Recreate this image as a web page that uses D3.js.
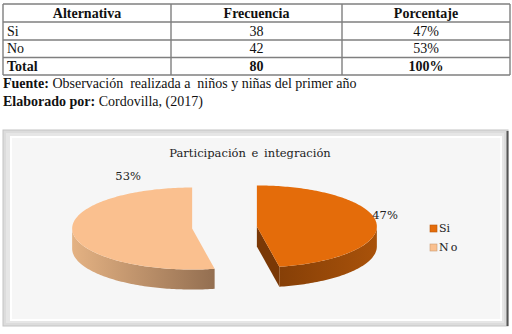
<!DOCTYPE html>
<html><head><meta charset="utf-8">
<script src="https://cdn.jsdelivr.net/npm/d3@7"></script>
<style>
html,body{margin:0;padding:0;background:#fff;}
svg{display:block;}
.tf{font-family:"Liberation Serif","Times New Roman",serif;}
.cf{font-family:"DejaVu Serif",serif;}
</style>
</head><body>
<svg id="c" width="512" height="334"></svg>
<script>
// ---- data ----
const headers = ["Alternativa", "Frecuencia", "Porcentaje"];
const categories = ["Si", "No"];
const frequencies = [38, 42];
const percentages = [47, 53];
const totalLabel = "Total";
const totalFrequency = 80;
const totalPercent = 100;
const chartTitle = "Participación e integración";
const sourceLabel = "Fuente:";
const sourceText = " Observación  realizada a  niños y niñas del primer año";
const authorLabel = "Elaborado por:";
const authorText = " Cordovilla, (2017)";

const svg = d3.select("#c");

// ---- table ----
const colEdges = [3, 171, 342, 510];
const rowEdges = [4, 22, 40, 57.5, 75];
const tg = svg.append("g");
const rows = [headers].concat(categories.map((c, i) => [c, String(frequencies[i]), percentages[i] + "%"]))
  .concat([[totalLabel, String(totalFrequency), totalPercent + "%"]]);
rowEdges.forEach(y => tg.append("line").attr("x1", colEdges[0]).attr("x2", colEdges[3]).attr("y1", y).attr("y2", y)
  .attr("stroke", "#7f7f7f").attr("stroke-width", 1.4));
colEdges.forEach(x => tg.append("line").attr("x1", x).attr("x2", x).attr("y1", rowEdges[0]).attr("y2", rowEdges[4])
  .attr("stroke", "#7f7f7f").attr("stroke-width", 1.4));
rows.forEach((r, ri) => {
  const bold = ri === 0 || ri === rows.length - 1;
  const yb = rowEdges[ri + 1] - 4.5;
  r.forEach((t, ci) => {
    const left = ci === 0 && ri > 0;
    tg.append("text").attr("class", "tf")
      .attr("x", left ? colEdges[0] + 4 : (colEdges[ci] + colEdges[ci + 1]) / 2)
      .attr("y", yb)
      .attr("text-anchor", left ? "start" : "middle")
      .style("font-size", "14px")
      .style("font-weight", bold ? "bold" : "normal")
      .attr("fill", "#111").text(t);
  });
});
const src = svg.append("text").attr("class", "tf").attr("x", 3).attr("y", 88).style("font-size", "14px").attr("fill", "#111");
src.append("tspan").style("font-weight", "bold").text(sourceLabel);
src.append("tspan").style("white-space", "pre").text(sourceText);
const aut = svg.append("text").attr("class", "tf").attr("x", 3).attr("y", 106).style("font-size", "14px").attr("fill", "#111");
aut.append("tspan").style("font-weight", "bold").text(authorLabel);
aut.append("tspan").style("white-space", "pre").text(authorText);

// ---- chart frame ----
const defs = svg.append("defs");
const fr = svg.append("g");
fr.append("rect").attr("x", 3).attr("y", 130).attr("width", 505).attr("height", 196)
  .attr("fill", "#dcdcdc").attr("stroke", "#c4c4c4").attr("stroke-width", 1);
fr.append("rect").attr("x", 6).attr("y", 133).attr("width", 498).attr("height", 190)
  .attr("fill", "#e6e6e6");
fr.append("line").attr("x1", 507.5).attr("x2", 507.5).attr("y1", 131).attr("y2", 326)
  .attr("stroke", "#555").attr("stroke-width", 2);
fr.append("rect").attr("x", 11).attr("y", 137).attr("width", 490).attr("height", 183)
  .attr("fill", "#f6f6f6").attr("stroke", "#ffffff").attr("stroke-width", 2);

svg.append("text").attr("class", "cf").attr("x", 250).attr("y", 157).attr("text-anchor", "middle")
  .style("font-size", "11.5px").attr("fill", "#222")
  .attr("word-spacing", 2).text(chartTitle);

// ---- 3D pie ----
const colors = d3.scaleOrdinal().domain(categories).range(["#e46c0a", "#fac08f"]);
const sideStops = { "Si": ["#7e3b06", "#a9520a"], "No": ["#e4b283", "#8f6b4e"] };
const faceColor = { "Si": "#7a3806", "No": "#9a7352" };
const cx0 = 224.5, cy0 = 227.5, rx = 120, ry = 41, depth = 20, explode = 32.5;

const pie = d3.pie().sort(null).value(d => d.v);
const arcs = pie(categories.map((c, i) => ({ c, v: percentages[i] })));

const pg = svg.append("g");
function pt(cx, cy, a, dz) { return [cx + rx * Math.sin(a), cy - ry * Math.cos(a) + (dz || 0)]; }
function arcPts(cx, cy, a0, a1, dz) {
  const n = Math.max(2, Math.ceil(Math.abs(a1 - a0) / 0.02));
  return d3.range(n + 1).map(i => pt(cx, cy, a0 + (a1 - a0) * i / n, dz));
}
const line = d3.line().curve(d3.curveLinear);

arcs.forEach((d, i) => {
  const c = d.data.c;
  const mid = (d.startAngle + d.endAngle) / 2;
  const cx = cx0 + explode * Math.sin(mid);
  const cy = cy0 - explode * Math.cos(mid) * ry / rx;
  const gid = "side" + i;
  const lg = defs.append("linearGradient").attr("id", gid).attr("gradientUnits", "userSpaceOnUse")
    .attr("y1", 0).attr("y2", 0);
  if (c === "No") {
    lg.attr("x1", cx - rx).attr("x2", cx + 30);
  } else {
    lg.attr("x1", cx).attr("x2", cx + rx);
  }
  lg.append("stop").attr("offset", "0%").attr("stop-color", sideStops[c][0]);
  lg.append("stop").attr("offset", "100%").attr("stop-color", sideStops[c][1]);

  // cut faces
  const faces = [];
  if (Math.sin(d.startAngle) < -1e-6) faces.push(d.startAngle);
  if (Math.sin(d.endAngle) > 1e-6) faces.push(d.endAngle);
  faces.forEach(a => {
    const p = pt(cx, cy, a), pb = pt(cx, cy, a, depth);
    pg.append("path").attr("d", line([[cx, cy], p, pb, [cx, cy + depth]]) + "Z")
      .attr("fill", faceColor[c]);
  });
  // outer wall (front half)
  const a0 = Math.max(d.startAngle, Math.PI / 2), a1 = Math.min(d.endAngle, 3 * Math.PI / 2);
  if (a1 > a0) {
    const top = arcPts(cx, cy, a0, a1, 0);
    const bot = arcPts(cx, cy, a1, a0, depth);
    pg.append("path").attr("d", line(top.concat(bot)) + "Z").attr("fill", "url(#" + gid + ")");
  }
  // top surface
  const tp = [[cx, cy]].concat(arcPts(cx, cy, d.startAngle, d.endAngle, 0));
  pg.append("path").attr("d", line(tp) + "Z").attr("fill", colors(c));
});

// data labels
const labelPos = {
  "Si": { a: 1.33, r: 1.1 },
  "No": { a: 5.88, r: 1.36 }
};
arcs.forEach(d => {
  const c = d.data.c;
  const mid = (d.startAngle + d.endAngle) / 2;
  const cx = cx0 + explode * Math.sin(mid);
  const cy = cy0 - explode * Math.cos(mid) * ry / rx;
  const lp = labelPos[c];
  const x = cx + rx * lp.r * Math.sin(lp.a), y = cy - ry * lp.r * Math.cos(lp.a);
  svg.append("text").attr("class", "cf").attr("x", x).attr("y", y).attr("text-anchor", "middle").attr("dominant-baseline", "middle")
    .style("font-size", "11.5px").attr("fill", "#222")
    .text(d.data.v + "%");
});

// legend
const lgd = svg.append("g").attr("transform", "translate(430,225)");
categories.forEach((c, i) => {
  const g = lgd.append("g").attr("transform", `translate(0,${i * 19})`);
  g.append("rect").attr("width", 7).attr("height", 7).attr("fill", colors(c))
    .attr("stroke", d3.color(colors(c)).darker(0.6)).attr("stroke-width", 0.6);
  g.append("text").attr("class", "cf").attr("x", 9).attr("y", 4).attr("dominant-baseline", "middle")
    .style("font-size", "11px").attr("fill", "#222")
    .attr("letter-spacing", c === "No" ? 2 : 0).text(c);
});
</script>
</body></html>
